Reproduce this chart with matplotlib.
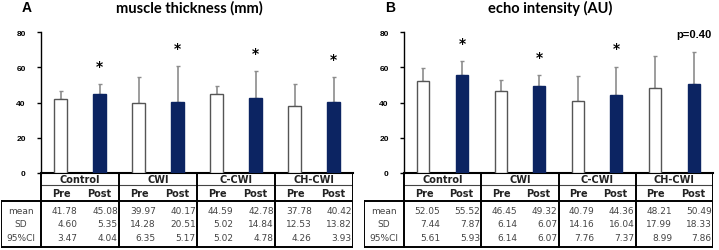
import numpy as np
import matplotlib.pyplot as plt

# data
groups = ['Control', 'CWI', 'C-CWI', 'CH-CWI']
row_names = ['mean', 'SD', '95%CI']

mt_mean = [41.78, 45.08, 39.97, 40.17, 44.59, 42.78, 37.78, 40.42]
mt_sd = [4.60, 5.35, 14.28, 20.51, 5.02, 14.84, 12.53, 13.82]
mt_ci = [3.47, 4.04, 6.35, 5.17, 5.02, 4.78, 4.26, 3.93]
mt_marks = ['', '*', '', '*', '', '*', '', '*']

ei_mean = [52.05, 55.52, 46.45, 49.32, 40.79, 44.36, 48.21, 50.49]
ei_sd = [7.44, 7.87, 6.14, 6.07, 14.16, 16.04, 17.99, 18.33]
ei_ci = [5.61, 5.93, 6.14, 6.07, 7.76, 7.37, 8.99, 7.86]
ei_marks = ['', '*', '', '*', '', '*', '', 'p=0.40']

navy = '#0c2462'
W, H = 719, 251


def px_axes(x0, x1, y_top, y_bot):
    return fig.add_axes([x0 / W, 1 - y_bot / H, (x1 - x0) / W, (y_bot - y_top) / H])


def panel(letter, title, mean, sd, ci, marks, x_lab, x_ax, x_end):
    mean = np.array(mean)
    sd = np.array(sd)
    pos = np.repeat(np.arange(4), 2) + np.tile([0.25, 0.75], 4)
    colors = ['white', navy] * 4
    edges = ['#555555', navy] * 4

    ax = px_axes(x_ax, x_end, 33, 174)
    ax.bar(pos, mean, width=0.155, color=colors, edgecolor=edges, linewidth=1, zorder=3)
    ax.errorbar(pos, mean, yerr=[np.zeros(8), sd], fmt='none', ecolor='#8c8c8c',
                elinewidth=1.2, capsize=1.5, capthick=1, zorder=2)
    for p, m, s, t in zip(pos, mean, sd, marks):
        if t == '*':
            ax.text(p, m + s + 8, t, ha='center', va='baseline', fontsize=10,
                    fontweight='bold', family='DejaVu Sans')
        elif t:
            ax.text(p, m + s + 8.5, t, ha='center', va='baseline', fontsize=8,
                    fontweight='bold', family='Liberation Sans')
    ax.set_xlim(0, 4)
    ax.set_ylim(0, 80)
    ax.set_yticks([0, 20, 40, 60, 80])
    ax.set_xticks([])
    ax.tick_params(axis='y', length=3, width=1, labelsize=6, pad=8)
    for lbl in ax.get_yticklabels():
        lbl.set_fontweight('bold')
        lbl.set_family('Liberation Sans')
    ax.spines['top'].set_visible(False)
    ax.spines['right'].set_visible(False)
    ax.spines['bottom'].set_linewidth(1.5)
    ax.spines['left'].set_linewidth(1)
    ax.patch.set_alpha(0)

    # table under the bars
    tb = px_axes(x_lab, x_end, 174, 249)
    left = -(x_ax - x_lab) / ((x_end - x_ax) / 4)
    tb.set_xlim(left, 4)
    tb.set_ylim(75, 0)
    tb.axis('off')
    lw = 1.4
    tb.plot([0, 4], [12, 12], color='#444444', lw=0.8)
    tb.plot([left, 4], [28, 28], color='black', lw=lw)
    tb.plot([left, 4], [74, 74], color='black', lw=lw)
    tb.plot([left, left], [28, 74], color='black', lw=lw)
    for g in range(5):
        tb.plot([g, g], [0, 74], color='black', lw=lw)
    for g, name in enumerate(groups):
        tb.text(g + 0.5, 6, name, ha='center', va='center', fontsize=7, fontweight='bold',
                color='#222222')
        tb.text(g + 0.26, 20, 'Pre', ha='center', va='center', fontsize=7, fontweight='bold',
                color='#222222')
        tb.text(g + 0.74, 20, 'Post', ha='center', va='center', fontsize=7, fontweight='bold',
                color='#222222')
    row_y = [37.5, 51, 64.5]
    for r, vals in enumerate([mean, sd, ci]):
        tb.text(left / 2, row_y[r], row_names[r], ha='center', va='center',
                fontsize=6.5, color='#444444')
        for i, v in enumerate(vals):
            g = i // 2
            x = g + (0.47 if i % 2 == 0 else 0.985)
            tb.text(x, row_y[r], f'{v:.2f}', ha='right', va='center',
                    fontsize=6.5, color='#444444')

    fig.text(((x_ax + x_end) / 2 - 8) / W, 1 - 8 / H, title, ha='center', va='center',
             fontsize=10.5, fontweight='bold', family='Lato')
    fig.text((x_lab + 26) / W, 1 - 8 / H, letter, ha='center', va='center',
             fontsize=10, fontweight='bold', family='Liberation Sans')


fig = plt.figure(figsize=(W / 100, H / 100), dpi=100)
panel('A', 'muscle thickness (mm)', mt_mean, mt_sd, mt_ci, mt_marks, 1, 41, 353)
panel('B', 'echo intensity (AU)', ei_mean, ei_sd, ei_ci, ei_marks, 364, 404, 713)
fig.savefig('out.png', dpi=100)
